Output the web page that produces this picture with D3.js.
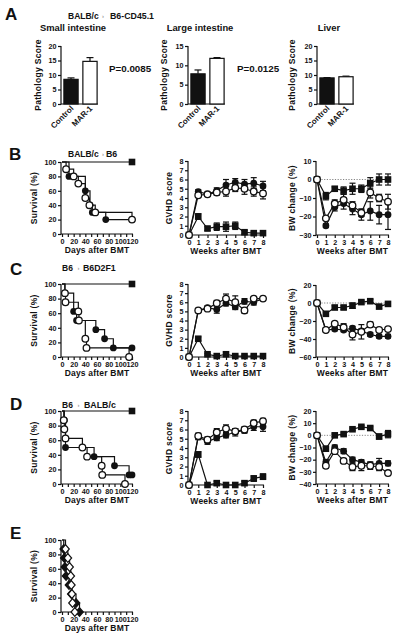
<!DOCTYPE html>
<html><head><meta charset="utf-8">
<script src="https://cdn.jsdelivr.net/npm/d3@7"></script>
<style>
body{margin:0;background:#fff}
text{font-family:"Liberation Sans",Arial,sans-serif;font-weight:bold;fill:#111}
</style>
</head><body><svg id="c" width="400" height="639"></svg>
<script>
// ---------- DATA ----------
const pathGroups = ["Control", "MAR-1"];
const siScore = [8.5, 14.7], siErr = [0.5, 1.3];
const liScore = [7.8, 11.8], liErr = [1.0, 0.2];
const liverScore = [9.0, 9.4], liverErr = [0.1, 0.2];
const pValues = ["P=0.0085", "P=0.0125"];
const organTitles = ["Small intestine", "Large intestine", "Liver"];
const siTicks = [0, 5, 10, 15, 20], liTicks = [0, 5, 10, 15], liverTicks = [0, 5, 10, 15, 20];

const weeks = [0, 1, 2, 3, 4, 5, 6, 7, 8];
const dayTicks = [0, 10, 20, 30, 40, 50, 60, 70, 80, 90, 100, 110, 120];
const survTicks = [0, 20, 40, 60, 80, 100];
const gvhdTicks = [0, 1, 2, 3, 4, 5, 6, 7, 8];

// B: BALB/c -> B6
const bSurvSquareDays = [0, 120], bSurvSquare = [100, 100];
const bSurvFilledDays = [0, 12, 40, 48, 52, 75, 120], bSurvFilled = [100, 80, 60, 40, 30, 20, 20];
const bSurvOpenDays = [0, 7, 20, 28, 40, 47, 57, 120], bSurvOpen = [100, 90, 80, 70, 50, 40, 30, 20];
const bGvhdSquare = [0, 2.0, 0.7, 0.9, 0.9, 1.0, 0.3, 0.2, 0.2], bGvhdSquareErr = [0, 0.3, 0.2, 0.4, 0.5, 0.4, 0.2, 0.2, 0.2];
const bGvhdFilled = [0, 4.7, 4.4, 4.8, 5.4, 5.7, 5.5, 5.6, 5.3], bGvhdFilledErr = [0, 0.2, 0.2, 0.3, 0.6, 0.4, 0.5, 0.6, 0.5];
const bGvhdOpen = [0, 4.3, 4.4, 4.6, 4.7, 5.1, 5.0, 4.7, 4.5], bGvhdOpenErr = [0, 0.2, 0.2, 0.3, 0.5, 0.4, 0.6, 0.5, 0.6];
const bBwSquare = [0, -9, -5, -6, -5, -5, -2, 0, 0], bBwSquareErr = [0, 2, 1, 2, 3, 2, 3, 3, 3];
const bBwFilled = [0, -25, -15, -13, -16, -19, -17, -19, -19], bBwFilledErr = [0, 1, 2, 3, 3, 3, 5, 5, 8];
const bBwOpen = [0, -21, -13, -11, -14, -18, -7, -10, -12], bBwOpenErr = [0, 1, 2, 3, 2, 2, 3, 2, 4];
const bBwTicks = [-30, -20, -10, 0, 10];

// C: B6 -> B6D2F1
const cSurvSquareDays = [0, 120], cSurvSquare = [100, 100];
const cSurvFilledDays = [0, 5, 20, 25, 58, 73, 88, 120], cSurvFilled = [100, 87.5, 62.5, 50, 37.5, 25, 12.5, 12.5];
const cSurvOpenDays = [0, 5, 6, 28, 29, 40, 42, 115], cSurvOpen = [100, 87.5, 75, 62.5, 50, 25, 12.5, 0];
const cGvhdSquare = [0, 2.0, 0.3, 0.1, 0.3, 0.1, 0.1, 0.1, 0.1], cGvhdSquareErr = [0, 0.2, 0.1, 0.1, 0.2, 0.1, 0.1, 0.1, 0.1];
const cGvhdFilled = [0, 5.1, 5.4, 5.2, 5.9, 5.5, 6.1, 6.0, 6.4], cGvhdFilledErr = [0, 0.2, 0.2, 0.4, 0.3, 0.3, 0.3, 0.3, 0.2];
const cGvhdOpen = [0, 5.1, 5.3, 5.9, 6.4, 6.0, 5.1, 6.4, 6.4], cGvhdOpenErr = [0, 0.2, 0.2, 0.3, 0.5, 0.7, 0.3, 0.2, 0.2];
const cBwSquare = [0, -12, -5, -5, -3, 1, 2, -4, -1], cBwSquareErr = [0, 2, 2, 2, 3, 2, 2, 2, 2];
const cBwFilled = [0, -30, -29, -30, -28, -31, -35, -37, -37], cBwFilledErr = [0, 2, 2, 2, 2, 2, 2, 2, 2];
const cBwOpen = [0, -30, -23, -27, -35, -32, -24, -30, -29], cBwOpenErr = [0, 2, 2, 4, 6, 8, 3, 2, 2];
const cBwTicks = [-60, -40, -20, 0, 20];

// D: B6 -> BALB/c
const dSurvSquareDays = [0, 120], dSurvSquare = [100, 100];
const dSurvFilledDays = [0, 4, 6, 55, 90, 115, 120], dSurvFilled = [100, 87.5, 50, 37.5, 25, 12.5, 12.5];
const dSurvOpenDays = [0, 3, 4, 6, 35, 43, 68, 69, 108], dSurvOpen = [100, 87.5, 75, 62.5, 50, 37.5, 25, 12.5, 0];
const dGvhdSquare = [0, 3.3, 0, 0.2, 0, 0, 0.2, 0.7, 0.9], dGvhdSquareErr = [0, 0.3, 0, 0.2, 0, 0, 0.2, 0.3, 0.3];
const dGvhdFilled = [0, 5.2, 4.7, 5.1, 5.4, 5.7, 5.9, 6.3, 6.3], dGvhdFilledErr = [0, 0.3, 0.3, 0.3, 0.3, 0.4, 0.3, 0.4, 0.5];
const dGvhdOpen = [0, 5.3, 4.9, 5.7, 6.1, 5.8, 6.0, 6.7, 6.9], dGvhdOpenErr = [0, 0.3, 0.3, 0.4, 0.4, 0.3, 0.3, 0.3, 0.3];
const dBwSquare = [0, -11, 0, 1, 5, 7, 6, -1, 1], dBwSquareErr = [0, 2, 1, 1, 1, 1, 1, 2, 3];
const dBwFilled = [0, -22, -10, -13, -20, -22, -24, -23, -23], dBwFilledErr = [0, 2, 2, 2, 2, 2, 2, 4, 2];
const dBwOpen = [0, -25, -13, -21, -26, -25, -25, -26, -31], dBwOpenErr = [0, 2, 2, 2, 3, 4, 3, 3, 2];
const dBwTicks = [-40, -30, -20, -10, 0, 10, 20];

// E
const eSurvOpenDays = [0, 6, 10, 13, 15, 16, 17, 18, 22], eSurvOpen = [100, 87.5, 75, 62.5, 50, 37.5, 25, 12.5, 0];
const eSurvFilledDays = [0, 3, 4, 5, 7, 12, 16, 24, 30], eSurvFilled = [100, 87.5, 75, 62.5, 50, 37.5, 25, 12.5, 0];

// ---------- DRAWING ----------
const svg = d3.select("#c");
const LW = 1.2;

function marker(g, type, cx, cy) {
  if (type === "fc") g.append("circle").attr("cx", cx).attr("cy", cy).attr("r", 3.4).attr("fill", "#111");
  else if (type === "oc") g.append("circle").attr("cx", cx).attr("cy", cy).attr("r", 3.3).attr("fill", "#fff").attr("stroke", "#111").attr("stroke-width", 1.3);
  else if (type === "sq") g.append("rect").attr("x", cx - 3.3).attr("y", cy - 3.3).attr("width", 6.6).attr("height", 6.6).attr("fill", "#111");
  else if (type === "fd" || type === "od") {
    const s = 3.8;
    g.append("path").attr("d", `M${cx},${cy - s - 0.5}L${cx + s},${cy}L${cx},${cy + s + 0.5}L${cx - s},${cy}Z`)
      .attr("fill", type === "fd" ? "#111" : "#fff").attr("stroke", "#111").attr("stroke-width", 1.2);
  }
}

function frame(opts) {
  const g = svg.append("g");
  const { x, y } = opts;
  const ya = d3.axisLeft(y).tickValues(opts.yTicks).tickSize(3).tickSizeOuter(0).tickPadding(1.5).tickFormat(opts.yFmt || d3.format("d"));
  const yg = g.append("g").attr("transform", `translate(${opts.ax},0)`).call(ya);
  yg.select(".domain").remove();
  yg.selectAll("line").attr("stroke", "#111").attr("stroke-width", LW);
  yg.selectAll("text").attr("font-size", 7.2).attr("font-family", "Liberation Sans, Arial").attr("font-weight", "bold").attr("fill", "#111");
  g.append("line").attr("x1", opts.ax).attr("x2", opts.ax).attr("y1", opts.top).attr("y2", opts.bottom + LW / 2).attr("stroke", "#111").attr("stroke-width", LW);
  if (x) {
    const xa = d3.axisBottom(x).tickValues(opts.xTicks).tickSize(3).tickSizeOuter(0).tickPadding(1.5).tickFormat(opts.xFmt || d3.format("d"));
    const xg = g.append("g").attr("transform", `translate(0,${opts.bottom})`).call(xa);
    xg.select(".domain").remove();
    xg.selectAll("line").attr("stroke", "#111").attr("stroke-width", LW);
    xg.selectAll("text").attr("font-size", 7.2).attr("font-family", "Liberation Sans, Arial").attr("font-weight", "bold").attr("fill", "#111");
  }
  g.append("line").attr("x1", opts.ax).attr("x2", opts.xEnd).attr("y1", opts.bottom).attr("y2", opts.bottom).attr("stroke", "#111").attr("stroke-width", LW);
  g.append("text").attr("transform", `translate(${opts.ylabX},${(opts.top + opts.bottom) / 2}) rotate(-90)`)
    .attr("text-anchor", "middle").attr("font-size", 8.5).attr("letter-spacing", 0.3).text(opts.ylab);
  if (opts.xlab) g.append("text").attr("x", (opts.ax + opts.xEnd) / 2).attr("y", opts.bottom + 19)
    .attr("text-anchor", "middle").attr("font-size", 8.5).attr("letter-spacing", 0.2).text(opts.xlab);
  return g;
}

// ---- Panel A bar charts ----
function barPanel(ax, yMax, ticks, vals, errs, title, ylabX) {
  const top = 46, bottom = 104;
  const y = d3.scaleLinear().domain([0, yMax]).range([bottom, top]);
  const x = d3.scaleBand().domain(pathGroups).range([ax + 1, ax + 38]).paddingInner(0.25).paddingOuter(0.1);
  const g = frame({ ax, xEnd: ax + 37, top, bottom, y, yTicks: ticks, ylab: "Pathology Score", ylabX });
  pathGroups.forEach((k, i) => {
    const x0 = x(k), w = x.bandwidth();
    const yt = y(vals[i]), ye = y(vals[i] + errs[i]);
    g.append("line").attr("x1", x0 + w / 2).attr("x2", x0 + w / 2).attr("y1", yt).attr("y2", ye).attr("stroke", "#111").attr("stroke-width", LW);
    g.append("line").attr("x1", x0 + w / 2 - 3.5).attr("x2", x0 + w / 2 + 3.5).attr("y1", ye).attr("y2", ye).attr("stroke", "#111").attr("stroke-width", LW);
    g.append("rect").attr("x", x0).attr("y", yt).attr("width", w).attr("height", bottom - yt)
      .attr("fill", i === 0 ? "#111" : "#fff").attr("stroke", "#111").attr("stroke-width", LW);
    g.append("text").attr("text-anchor", "end").attr("font-size", 8)
      .attr("transform", `translate(${x0 + w / 2 + 3},${bottom + 5}) rotate(-45)`).text(k);
  });
  g.append("text").attr("x", ax + 12).attr("y", 31).attr("text-anchor", "middle").attr("font-size", 9.4).text(title);
}
barPanel(61, 20, siTicks, siScore, siErr, organTitles[0], 41);
barPanel(188, 15, liTicks, liScore, liErr, organTitles[1], 167);
barPanel(317, 20, liverTicks, liverScore, liverErr, organTitles[2], 295);
svg.append("text").attr("x", 109).attr("y", 72).attr("font-size", 9.8).text(pValues[0]);
svg.append("text").attr("x", 237).attr("y", 72).attr("font-size", 9.8).text(pValues[1]);

// ---- panel letters and subtitles ----
function letter(t, x, y) { svg.append("text").attr("x", x).attr("y", y).attr("font-size", 17).text(t); }
function subtitle(a, ax, arrowX, b, bx, y) {
  svg.append("text").attr("x", ax).attr("y", y).attr("font-size", 8.5).text(a);
  svg.append("text").attr("x", arrowX).attr("y", y - 1).attr("font-size", 6).attr("font-weight", "normal")
    .style("fill", "#999").text("›");
  svg.append("text").attr("x", bx).attr("y", y).attr("font-size", 8.8).text(b);
}
letter("A", 5, 20); subtitle("BALB/c", 68, 102, "B6-CD45.1", 110, 19);
letter("B", 9, 160); subtitle("BALB/c", 68, 102, "B6", 106, 157);
letter("C", 10, 275); subtitle("B6", 62, 77.5, "B6D2F1", 83, 271);
letter("D", 10, 410); subtitle("B6", 62, 77.5, "BALB/c", 84, 408);
letter("E", 10, 539);

// ---- survival plots ----
function survPlot(top, bottom, series) {
  const x = d3.scaleLinear().domain([0, 120]).range([62, 132]);
  const y = d3.scaleLinear().domain([0, 100]).range([bottom, top]);
  const g = frame({ ax: 61, xEnd: 133, top, bottom, x, y, yTicks: survTicks, xTicks: dayTicks,
    xFmt: d => d % 20 === 0 ? d : "", ylab: "Survival (%)", ylabX: 37, xlab: "Days after BMT" });
  const line = d3.line().x(d => x(d[0])).y(d => y(d[1])).curve(d3.curveStepAfter);
  series.forEach(s => {
    const pts = s.days.map((d, i) => [d, s.vals[i]]);
    g.append("path").attr("d", line(pts)).attr("fill", "none").attr("stroke", "#111").attr("stroke-width", LW);
  });
  series.forEach(s => {
    s.days.forEach((d, i) => { if (i > 0 && (!s.lastOnly || i === s.days.length - 1)) marker(g, s.type, x(d), y(s.vals[i])); });
  });
}
function tsPlot(ax, xEnd, top, bottom, domain, ticks, ylab, ylabX, series, zeroLine) {
  const x = d3.scaleLinear().domain([0, 8]).range([ax + 1, xEnd]);
  const y = d3.scaleLinear().domain(domain).range([bottom, top]);
  const g = frame({ ax, xEnd: xEnd + 1, top, bottom, x, y, yTicks: ticks, xTicks: weeks, ylab, ylabX, xlab: "Weeks after BMT" });
  if (zeroLine) g.append("line").attr("x1", ax).attr("x2", xEnd).attr("y1", y(0)).attr("y2", y(0))
    .attr("stroke", "#777").attr("stroke-width", 0.9).attr("stroke-dasharray", "1.2,1.5");
  const line = d3.line().x((d, i) => x(weeks[i])).y(d => y(d));
  series.forEach(s => {
    g.append("path").attr("d", line(s.vals)).attr("fill", "none").attr("stroke", "#111").attr("stroke-width", LW);
    s.vals.forEach((v, i) => {
      const e = s.err[i]; if (!e) return;
      const cx = x(weeks[i]);
      g.append("line").attr("x1", cx).attr("x2", cx).attr("y1", y(v - e)).attr("y2", y(v + e)).attr("stroke", "#111").attr("stroke-width", LW);
      [v - e, v + e].forEach(t => g.append("line").attr("x1", cx - 3).attr("x2", cx + 3).attr("y1", y(t)).attr("y2", y(t)).attr("stroke", "#111").attr("stroke-width", LW));
    });
  });
  series.forEach(s => s.vals.forEach((v, i) => marker(g, s.type, x(weeks[i]), y(v))));
}

// Row B
survPlot(162, 234, [
  { days: bSurvSquareDays, vals: bSurvSquare, type: "sq", lastOnly: true },
  { days: bSurvFilledDays, vals: bSurvFilled, type: "fc" },
  { days: bSurvOpenDays, vals: bSurvOpen, type: "oc" }]);
tsPlot(188, 263, 161, 235, [0, 8], gvhdTicks, "GVHD score", 172, [
  { vals: bGvhdSquare, err: bGvhdSquareErr, type: "sq" },
  { vals: bGvhdFilled, err: bGvhdFilledErr, type: "fc" },
  { vals: bGvhdOpen, err: bGvhdOpenErr, type: "oc" }]);
tsPlot(316, 388, 161, 235, [-30, 10], bBwTicks, "BW change (%)", 295, [
  { vals: bBwSquare, err: bBwSquareErr, type: "sq" },
  { vals: bBwFilled, err: bBwFilledErr, type: "fc" },
  { vals: bBwOpen, err: bBwOpenErr, type: "oc" }], true);

// Row C
survPlot(284, 357, [
  { days: cSurvSquareDays, vals: cSurvSquare, type: "sq", lastOnly: true },
  { days: cSurvFilledDays, vals: cSurvFilled, type: "fc" },
  { days: cSurvOpenDays, vals: cSurvOpen, type: "oc" }]);
tsPlot(188, 263, 284, 357, [0, 8], gvhdTicks, "GVHD score", 172, [
  { vals: cGvhdSquare, err: cGvhdSquareErr, type: "sq" },
  { vals: cGvhdFilled, err: cGvhdFilledErr, type: "fc" },
  { vals: cGvhdOpen, err: cGvhdOpenErr, type: "oc" }]);
tsPlot(316, 388, 285, 357, [-60, 20], cBwTicks, "BW change (%)", 295, [
  { vals: cBwSquare, err: cBwSquareErr, type: "sq" },
  { vals: cBwFilled, err: cBwFilledErr, type: "fc" },
  { vals: cBwOpen, err: cBwOpenErr, type: "oc" }], true);

// Row D
survPlot(411, 484, [
  { days: dSurvSquareDays, vals: dSurvSquare, type: "sq", lastOnly: true },
  { days: dSurvFilledDays, vals: dSurvFilled, type: "fc" },
  { days: dSurvOpenDays, vals: dSurvOpen, type: "oc" }]);
tsPlot(188, 263, 411, 485, [0, 8], gvhdTicks, "GVHD score", 172, [
  { vals: dGvhdSquare, err: dGvhdSquareErr, type: "sq" },
  { vals: dGvhdFilled, err: dGvhdFilledErr, type: "fc" },
  { vals: dGvhdOpen, err: dGvhdOpenErr, type: "oc" }]);
tsPlot(316, 388, 411, 484, [-40, 20], dBwTicks, "BW change (%)", 295, [
  { vals: dBwSquare, err: dBwSquareErr, type: "sq" },
  { vals: dBwFilled, err: dBwFilledErr, type: "fc" },
  { vals: dBwOpen, err: dBwOpenErr, type: "oc" }], true);

// Row E
survPlot(540, 612, [
  { days: eSurvFilledDays, vals: eSurvFilled, type: "fd" },
  { days: eSurvOpenDays, vals: eSurvOpen, type: "od" }]);
</script>
</body></html>
